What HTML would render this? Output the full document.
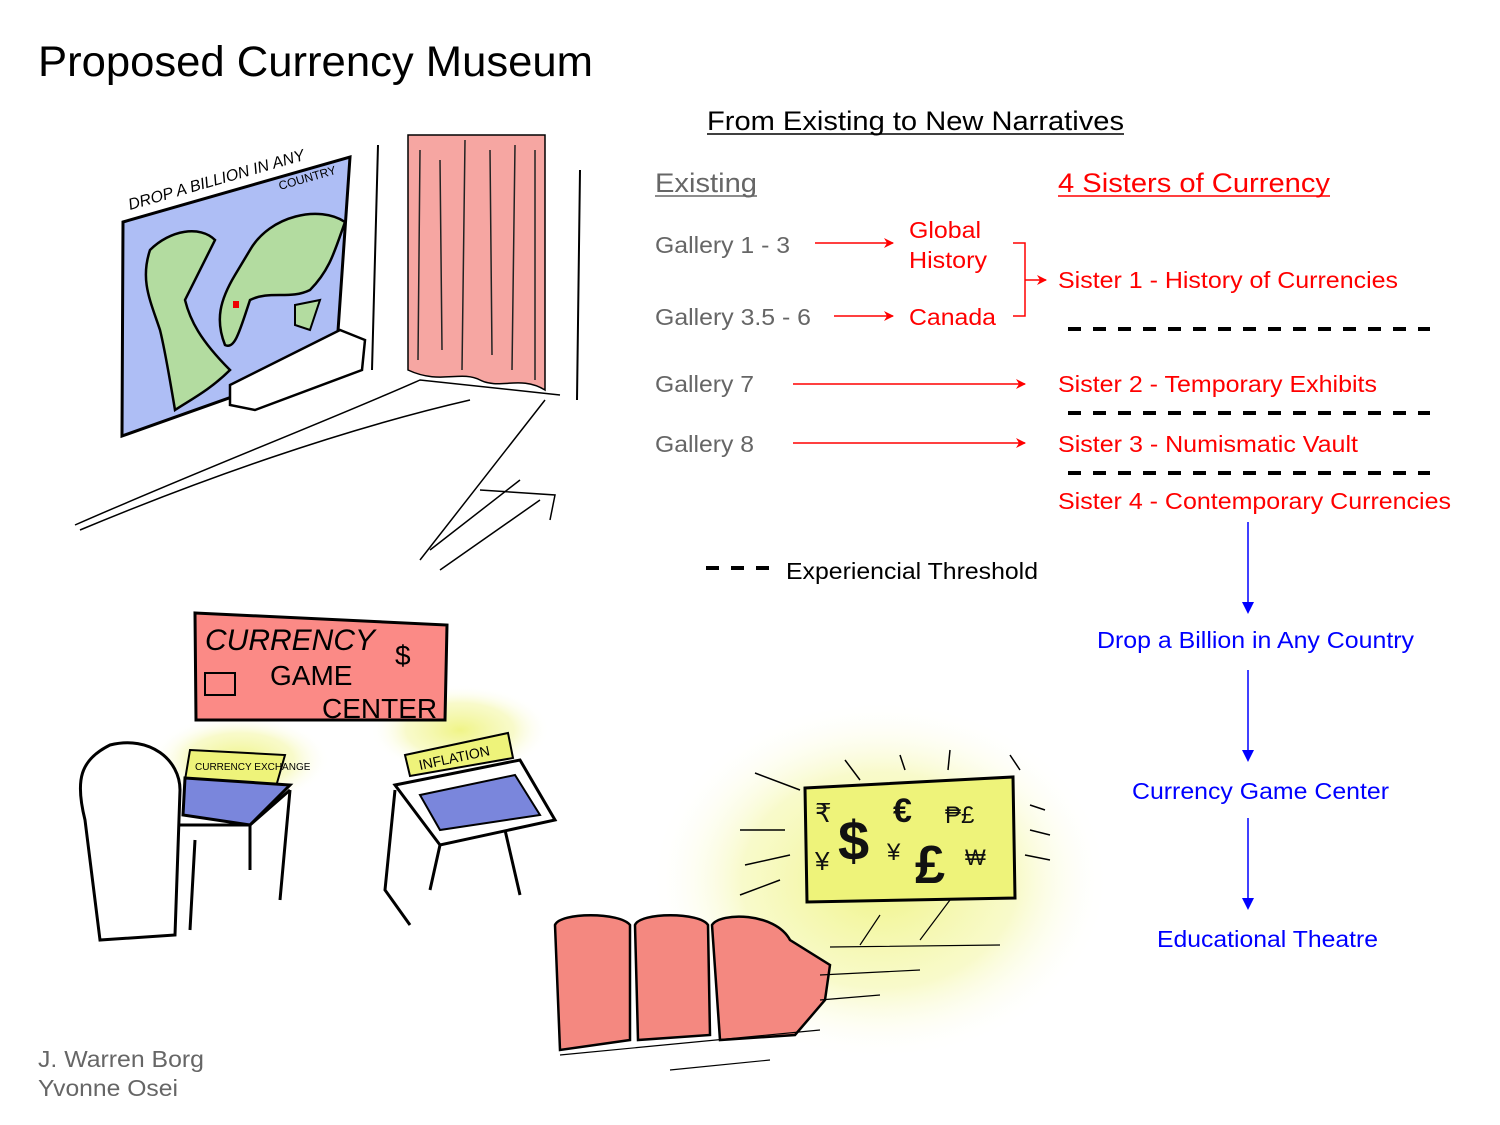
<!DOCTYPE html>
<html><head><meta charset="utf-8"><style>
html,body{margin:0;padding:0;background:#fff;}
svg{display:block;}
text{font-family:"Liberation Sans",Arial,sans-serif;}
</style></head><body>
<svg width="1500" height="1125" viewBox="0 0 1500 1125" xmlns="http://www.w3.org/2000/svg">
<defs>
<marker id="ar" markerWidth="10" markerHeight="10" refX="9" refY="5" orient="auto" markerUnits="userSpaceOnUse"><path d="M0,0 L10,5 L0,10 L3,5 z" fill="#f00"/></marker>
<radialGradient id="glow"><stop offset="0" stop-color="#eef37a" stop-opacity="0.9"/><stop offset="0.6" stop-color="#f4f7a8" stop-opacity="0.6"/><stop offset="1" stop-color="#fff" stop-opacity="0"/></radialGradient>
</defs>

<text x="38" y="76" font-size="43" fill="#000" textLength="555" lengthAdjust="spacingAndGlyphs">Proposed Currency Museum</text>

<!-- Sketch 1: map & curtain -->
<polygon points="123,222 350,157 336,360 122,436" fill="#aebef5" stroke="#000" stroke-width="3"/>
<path d="M150,250 C170,230 200,225 215,240 C205,260 195,280 185,300 C190,320 200,340 230,370 C210,390 190,400 175,410 C170,380 165,350 160,330 C150,300 140,280 150,250z" fill="#b3dca0" stroke="#000" stroke-width="2.5"/>
<path d="M250,250 C270,215 320,205 345,222 C335,250 330,270 310,290 C290,300 270,290 250,300 C240,330 235,350 225,345 C215,320 220,300 235,275 z" fill="#b3dca0" stroke="#000" stroke-width="2.5"/>
<path d="M295,305 L320,300 L310,330 L295,325z" fill="#b3dca0" stroke="#000" stroke-width="2"/>
<rect x="233" y="301" width="6" height="7" fill="#e00"/>
<text x="130" y="210" font-size="16" font-style="italic" fill="#000" transform="rotate(-16 130 210)">DROP A BILLION IN ANY</text>
<text x="280" y="190" font-size="12" fill="#000" transform="rotate(-16 280 190)">COUNTRY</text>
<polygon points="230,385 340,330 365,340 362,370 255,410 230,405" fill="#fff" stroke="#000" stroke-width="2.5"/>
<path d="M378,145 L372,370 M580,170 L577,400" stroke="#000" stroke-width="2" fill="none"/>
<path d="M408,135 L545,135 L545,390 C520,375 500,390 480,380 C460,370 440,385 408,370 z" fill="#f6a6a2" stroke="#000" stroke-width="1.5"/>
<path d="M420,150 L418,360 M440,160 L442,350 M465,140 L462,370 M490,150 L492,355 M515,145 L512,370 M535,150 L535,380" stroke="#222" stroke-width="1.5"/>
<path d="M75,525 C200,470 330,420 420,380 L560,395 M80,530 C200,480 340,430 470,400 M545,400 L420,560 M480,490 L555,495 L550,520 M430,550 L520,480 M440,570 L540,500" stroke="#000" stroke-width="1.5" fill="none"/>

<!-- Sketch 2: game center -->
<ellipse cx="240" cy="760" rx="90" ry="45" fill="url(#glow)"/>
<ellipse cx="460" cy="730" rx="90" ry="45" fill="url(#glow)"/>
<polygon points="195,613 447,625 445,720 196,720" fill="#fb8a86" stroke="#000" stroke-width="3"/>
<text x="205" y="650" font-size="30" fill="#000" font-style="italic">CURRENCY</text>
<text x="395" y="665" font-size="28" fill="#000">$</text>
<text x="270" y="685" font-size="28" fill="#000">GAME</text>
<text x="322" y="718" font-size="28" fill="#000">CENTER</text>
<rect x="205" y="673" width="30" height="22" fill="none" stroke="#000" stroke-width="2"/>
<polygon points="190,750 285,755 275,790 185,780" fill="#eef37a" stroke="#000" stroke-width="2"/>
<text x="195" y="770" font-size="10" fill="#000">CURRENCY EXCHANGE</text>
<polygon points="185,778 290,785 250,825 183,815" fill="#7a86dc" stroke="#000" stroke-width="3"/>
<path d="M110,745 C150,735 180,760 180,790 L175,935 L100,940 L85,820 C75,780 80,760 110,745z" fill="#fff" stroke="#000" stroke-width="3"/>
<path d="M180,825 L250,825 L290,790 M250,825 L250,870 M290,790 L280,900 M195,840 L190,930" stroke="#000" stroke-width="3" fill="none"/>
<polygon points="405,755 508,733 513,758 410,776" fill="#eef37a" stroke="#000" stroke-width="2"/>
<text x="420" y="770" font-size="14" fill="#000" transform="rotate(-12 420 770)">INFLATION</text>
<polygon points="395,785 520,760 555,820 440,845" fill="#fff" stroke="#000" stroke-width="3"/>
<polygon points="420,795 515,775 540,815 440,830" fill="#7a86dc" stroke="#000" stroke-width="2"/>
<path d="M395,790 L385,890 L410,925 M440,845 L430,890 M505,830 L520,895" stroke="#000" stroke-width="3" fill="none"/>

<!-- Sketch 3: theatre -->
<ellipse cx="880" cy="880" rx="230" ry="180" fill="url(#glow)"/>
<polygon points="805,788 1013,777 1015,898 807,902" fill="#eef37a" stroke="#000" stroke-width="3"/>
<text x="838" y="860" font-size="56" font-weight="bold" fill="#111">$</text>
<text x="893" y="822" font-size="34" font-weight="bold" fill="#111">€</text>
<text x="915" y="883" font-size="54" font-weight="bold" fill="#111">£</text>
<text x="815" y="822" font-size="26" fill="#111">₹</text>
<text x="945" y="823" font-size="24" fill="#111">₱£</text>
<text x="815" y="870" font-size="26" fill="#111">¥</text>
<text x="887" y="860" font-size="24" fill="#111">¥</text>
<text x="965" y="865" font-size="22" fill="#111">₩</text>
<path d="M755,773 L800,790 M845,760 L860,780 M900,755 L905,770 M950,750 L948,770 M1010,755 L1020,770 M1030,805 L1045,810 M1030,830 L1050,835 M1025,855 L1050,860 M740,830 L785,830 M745,865 L790,855 M740,895 L780,880" stroke="#000" stroke-width="1.5"/>
<path d="M555,925 C560,912 620,912 630,925 L630,1040 L560,1050 z" fill="#f48880" stroke="#000" stroke-width="2.5"/>
<path d="M635,925 C640,912 700,912 708,925 L710,1035 L638,1040 z" fill="#f48880" stroke="#000" stroke-width="2.5"/>
<path d="M712,925 C720,912 775,912 790,940 L830,965 L825,1000 L795,1035 L720,1040 z" fill="#f48880" stroke="#000" stroke-width="2.5"/>
<path d="M860,945 L880,915 M920,940 L950,900 M830,947 L1000,945 M820,975 L920,970 M820,1000 L880,995 M560,1055 L820,1030 M670,1070 L770,1060" stroke="#000" stroke-width="1.2"/>

<!-- Diagram -->
<text x="707" y="130" font-size="27" fill="#000" textLength="417" lengthAdjust="spacingAndGlyphs">From Existing to New Narratives</text>
<line x1="707" y1="134" x2="1124" y2="134" stroke="#000" stroke-width="1.5"/>
<text x="655" y="192" font-size="27" fill="#666" textLength="102" lengthAdjust="spacingAndGlyphs">Existing</text>
<line x1="655" y1="196" x2="757" y2="196" stroke="#666" stroke-width="1.5"/>
<text x="1058" y="192" font-size="27" fill="#f00" textLength="272" lengthAdjust="spacingAndGlyphs">4 Sisters of Currency</text>
<line x1="1058" y1="196" x2="1330" y2="196" stroke="#f00" stroke-width="1.5"/>

<g font-size="23" fill="#666" lengthAdjust="spacingAndGlyphs">
<text x="655" y="253" textLength="135" lengthAdjust="spacingAndGlyphs">Gallery 1 - 3</text>
<text x="655" y="325" textLength="156" lengthAdjust="spacingAndGlyphs">Gallery 3.5 - 6</text>
<text x="655" y="392" textLength="99" lengthAdjust="spacingAndGlyphs">Gallery 7</text>
<text x="655" y="452" textLength="99" lengthAdjust="spacingAndGlyphs">Gallery 8</text>
</g>
<g font-size="23" fill="#f00">
<text x="909" y="238" textLength="72" lengthAdjust="spacingAndGlyphs">Global</text>
<text x="909" y="268" textLength="78" lengthAdjust="spacingAndGlyphs">History</text>
<text x="909" y="325" textLength="87" lengthAdjust="spacingAndGlyphs">Canada</text>
<text x="1058" y="288" textLength="340" lengthAdjust="spacingAndGlyphs">Sister 1 - History of Currencies</text>
<text x="1058" y="392" textLength="319" lengthAdjust="spacingAndGlyphs">Sister 2 - Temporary Exhibits</text>
<text x="1058" y="452" textLength="300" lengthAdjust="spacingAndGlyphs">Sister 3 - Numismatic Vault</text>
<text x="1058" y="509" textLength="393" lengthAdjust="spacingAndGlyphs">Sister 4 - Contemporary Currencies</text>
</g>
<g stroke="#f00" stroke-width="1.5" fill="none">
<line x1="815" y1="243" x2="893" y2="243" marker-end="url(#ar)"/>
<line x1="834" y1="316" x2="893" y2="316" marker-end="url(#ar)"/>
<line x1="793" y1="384" x2="1025" y2="384" marker-end="url(#ar)"/>
<line x1="793" y1="443" x2="1025" y2="443" marker-end="url(#ar)"/>
<path d="M1013,243 L1025,243 L1025,316 L1013,316"/>
<line x1="1025" y1="280" x2="1046" y2="280" marker-end="url(#ar)"/>
</g>
<g stroke="#000" stroke-width="4" stroke-dasharray="13,12">
<line x1="1068" y1="329" x2="1430" y2="329"/>
<line x1="1068" y1="413" x2="1430" y2="413"/>
<line x1="1068" y1="473" x2="1430" y2="473"/>
<line x1="706" y1="568" x2="774" y2="568"/>
</g>
<text x="786" y="579" font-size="23" fill="#000" textLength="252" lengthAdjust="spacingAndGlyphs">Experiencial Threshold</text>

<g stroke="#00f" stroke-width="1.5">
<line x1="1248" y1="522" x2="1248" y2="602"/>
<line x1="1248" y1="670" x2="1248" y2="750"/>
<line x1="1248" y1="818" x2="1248" y2="898"/>
</g>
<g fill="#00f">
<path d="M1242,602 L1254,602 L1248,614 z"/>
<path d="M1242,750 L1254,750 L1248,762 z"/>
<path d="M1242,898 L1254,898 L1248,910 z"/>
</g>
<g font-size="23" fill="#00f">
<text x="1097" y="648" textLength="317" lengthAdjust="spacingAndGlyphs">Drop a Billion in Any Country</text>
<text x="1132" y="799" textLength="257" lengthAdjust="spacingAndGlyphs">Currency Game Center</text>
<text x="1157" y="947" textLength="221" lengthAdjust="spacingAndGlyphs">Educational Theatre</text>
</g>

<text x="38" y="1067" font-size="23" fill="#666" textLength="166" lengthAdjust="spacingAndGlyphs">J. Warren Borg</text>
<text x="38" y="1096" font-size="23" fill="#666" textLength="140" lengthAdjust="spacingAndGlyphs">Yvonne Osei</text>
</svg>
</body></html>
